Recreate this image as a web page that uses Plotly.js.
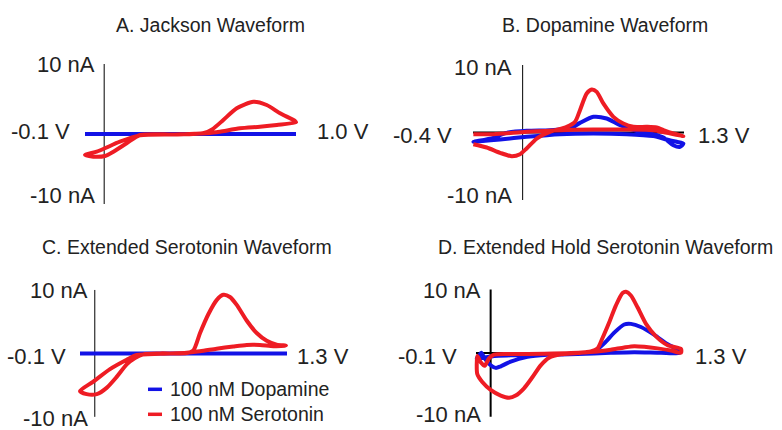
<!DOCTYPE html>
<html>
<head>
<meta charset="utf-8">
<script src="https://cdn.plot.ly/plotly-3.0.1.min.js"></script>
<style>html,body{margin:0;padding:0;background:#fff;}#chart{width:782px;height:430px;}</style>
</head>
<body>
<div id="chart"></div>
<script>
// ---------- DATA (potential in V, current in nA) ----------
const panelTitles = ["A. Jackson Waveform", "B. Dopamine Waveform", "C. Extended Serotonin Waveform", "D. Extended Hold Serotonin Waveform"];
const seriesNames = ["100 nM Dopamine", "100 nM Serotonin"];
const voltLimits = [[-0.1, 1.0], [-0.4, 1.3], [-0.1, 1.3], [-0.1, 1.3]];
const voltLabels = [["-0.1 V", "1.0 V"], ["-0.4 V", "1.3 V"], ["-0.1 V", "1.3 V"], ["-0.1 V", "1.3 V"]];
const currentLabels = ["10 nA", "-10 nA"];
const currentLimits = [-10, 10];

// Panel A
const voltA_dopamine = [-0.1, 0.2, 0.5, 0.8, 1.0];
const curA_dopamine  = [0, 0, 0, 0, 0];
const voltA_serotonin = [-0.1,-0.057,0.004,0.048,0.117,0.187,0.369,0.52,0.565,0.621,0.691,0.778,0.847,0.917,0.995,1.0,0.9,0.812,0.708,0.604,0.552,0.369,0.187,0.082,0.004,-0.039,-0.1];
const curA_serotonin  = [-3.0,-3.24,-3.14,-2.53,-1.33,-0.14,-0.07,0.15,0.7,2.0,3.67,4.6,4.14,2.96,1.86,1.67,1.29,1.04,0.81,0.33,0.14,-0.07,-0.2,-1.1,-2.04,-2.53,-3.0];

// Panel B
const voltB_dopamine = [-0.397,-0.236,-0.129,0.032,0.220,0.382,0.462,0.570,0.677,0.785,0.919,1.053,1.134,1.214,1.268,1.295,1.241,1.161,1.053,0.838,0.570,0.301,0.032,-0.182,-0.344,-0.397];
const curB_dopamine  = [-1.38,-0.79,-0.05,0.25,0.35,0.59,1.43,2.32,2.07,1.09,0.25,-0.25,-0.74,-1.88,-2.12,-1.63,-1.38,-1.04,-0.54,-0.25,-0.15,-0.25,-0.64,-1.04,-1.28,-1.38];
const voltB_serotonin = [-0.397,-0.236,0.032,0.301,0.570,0.838,1.053,1.161,1.295,1.214,1.134,1.080,1.000,0.892,0.811,0.731,0.650,0.597,0.556,0.516,0.462,0.422,0.355,0.220,0.113,0.032,-0.021,-0.088,-0.182,-0.290,-0.397];
const curB_serotonin  = [-0.25,-0.25,0.10,0.35,0.44,0.44,0.35,-0.05,-0.54,-0.15,0.35,0.74,0.84,0.84,1.33,2.32,4.30,6.02,6.37,5.78,3.31,1.58,0.84,0.10,-0.89,-2.37,-3.21,-3.51,-3.01,-2.22,-1.73];

// Panel C
const voltC_dopamine = [-0.1, 0.3, 0.7, 1.0, 1.3];
const curC_dopamine  = [0, 0, 0, 0, 0];
const voltC_serotonin = [-0.1,-0.055,0.013,0.08,0.148,0.216,0.272,0.328,0.441,0.621,0.667,0.712,0.768,0.824,0.869,0.914,0.96,1.027,1.095,1.163,1.230,1.293,1.208,1.117,1.027,0.937,0.824,0.712,0.621,0.441,0.283,0.216,0.103,-0.01,-0.1];
const curC_serotonin  = [-5.93,-6.42,-6.42,-5.43,-3.70,-1.73,-0.74,-0.15,0.0,0.05,0.49,3.21,6.17,8.4,9.23,8.89,7.65,5.19,3.21,1.98,1.38,1.23,1.14,1.33,1.33,1.09,0.74,0.35,0.10,-0.05,-0.25,-0.99,-2.47,-4.44,-5.93];

// Panel D
const voltD_dopamine = [-0.095,-0.079,-0.064,-0.041,-0.004,0.035,0.069,0.137,0.251,0.388,0.593,0.707,0.776,0.844,0.912,0.958,1.026,1.118,1.209,1.289,1.289,1.163,0.981,0.821,0.593,0.365,0.137,0.023,-0.095];
const curD_dopamine  = [-0.84,-0.35,0.05,-0.84,-1.83,-2.32,-2.07,-1.33,-0.59,-0.25,-0.05,0.25,1.53,3.21,4.49,4.59,4.10,2.86,1.38,0.40,0.05,0.05,0.15,0.05,-0.15,-0.25,-0.35,-0.44,-0.84];
const voltD_serotonin = [-0.091,-0.095,-0.091,-0.057,0.0,0.069,0.126,0.171,0.228,0.285,0.342,0.399,0.479,0.593,0.684,0.730,0.764,0.810,0.855,0.901,0.924,0.958,1.004,1.061,1.129,1.209,1.3,1.3,1.232,1.140,1.049,0.981,0.912,0.821,0.707,0.548,0.365,0.137,0.023,-0.011,-0.041,-0.068,-0.091];
const curD_serotonin  = [-0.44,-1.83,-3.31,-4.54,-5.78,-6.67,-7.01,-6.67,-5.53,-3.80,-1.93,-0.74,-0.20,0,0.25,0.74,2.37,4.84,7.46,9.43,9.63,9.04,7.16,4.59,2.62,1.23,0.64,0.05,0.40,0.74,0.99,1.09,0.89,0.54,0.20,0,-0.10,-0.15,-0.25,-0.84,-1.98,-1.43,-0.44];

const dopamineVolts = [voltA_dopamine, voltB_dopamine, voltC_dopamine, voltD_dopamine];
const dopamineCurs  = [curA_dopamine, curB_dopamine, curC_dopamine, curD_dopamine];
const serotoninVolts = [voltA_serotonin, voltB_serotonin, voltC_serotonin, voltD_serotonin];
const serotoninCurs  = [curA_serotonin, curB_serotonin, curC_serotonin, curD_serotonin];

// ---------- LAYOUT (pixel geometry) ----------
const W = 782, H = 430;
const BLUE = '#1212e6', RED = '#ee1c24', TXT = '#222222';
const FONT = 'Liberation Sans, Arial, Helvetica, sans-serif';
const geom = [
  {x0: 85,  x1: 296, yTop: 64,    yBot: 204,   vw: 1},
  {x0: 473, x1: 684, yTop: 65,    yBot: 200,   vw: 1},
  {x0: 80,  x1: 287, yTop: 290.8, yBot: 425.8, vw: 1},
  {x0: 476, x1: 681, yTop: 290.2, yBot: 425.2, vw: 2}
];
const titlePos = [[211, 25], [605, 25], [187, 247], [605, 247]];
const labelPos = [
  [[97, 64.5], [97, 196], [72, 131], [315, 131]],
  [[514, 68], [514, 195], [454, 135], [696, 135]],
  [[90, 290], [90, 418], [68, 356.5], [295, 356.5]],
  [[483, 290], [483, 414.5], [459, 356.5], [693, 356.5]]
];
const px2x = p => p / W;
const px2y = p => (H - p) / H;
const PAD = 14;

const layout = {
  width: W, height: H, autosize: false,
  margin: {l: 0, r: 0, t: 0, b: 0},
  paper_bgcolor: '#fff', plot_bgcolor: 'rgba(0,0,0,0)',
  showlegend: false,
  shapes: [], annotations: []
};
const traces = [];

for (let i = 0; i < 4; i++) {
  const g = geom[i];
  const [v0, v1] = voltLimits[i];
  const vPerPx = (v1 - v0) / (g.x1 - g.x0);
  const nAPerPx = (currentLimits[1] - currentLimits[0]) / (g.yBot - g.yTop);
  const sfx = i === 0 ? '' : String(i + 1);
  layout['xaxis' + sfx] = {
    domain: [px2x(g.x0 - PAD), px2x(g.x1 + PAD)],
    range: [v0 - PAD * vPerPx, v1 + PAD * vPerPx],
    visible: false, fixedrange: true, anchor: 'y' + sfx
  };
  layout['yaxis' + sfx] = {
    domain: [px2y(g.yBot + PAD), px2y(g.yTop - PAD)],
    range: [currentLimits[0] - PAD * nAPerPx, currentLimits[1] + PAD * nAPerPx],
    visible: false, fixedrange: true, anchor: 'x' + sfx
  };
  const xr = 'x' + sfx, yr = 'y' + sfx;
  layout.shapes.push({type: 'line', xref: xr, yref: yr, x0: v0, x1: v1, y0: 0, y1: 0,
    line: {color: '#000', width: 2}, layer: 'below'});
  layout.shapes.push({type: 'line', xref: xr, yref: yr, x0: 0, x1: 0, y0: currentLimits[0], y1: currentLimits[1],
    line: {color: '#000', width: g.vw}, layer: 'below'});

  traces.push({x: dopamineVolts[i], y: dopamineCurs[i], xaxis: xr, yaxis: yr, type: 'scatter', mode: 'lines',
    name: seriesNames[0], line: {color: BLUE, width: 4, shape: 'spline', smoothing: 0.7}, hoverinfo: 'skip'});
  traces.push({x: serotoninVolts[i], y: serotoninCurs[i], xaxis: xr, yaxis: yr, type: 'scatter', mode: 'lines',
    name: seriesNames[1], line: {color: RED, width: 4, shape: 'spline', smoothing: 0.7}, hoverinfo: 'skip'});

  layout.annotations.push({text: panelTitles[i], xref: 'paper', yref: 'paper',
    x: px2x(titlePos[i][0]), y: px2y(titlePos[i][1]), xanchor: 'center', yanchor: 'middle',
    showarrow: false, font: {family: FONT, size: 19.5, color: TXT}});
  const lp = labelPos[i];
  const texts = [currentLabels[0], currentLabels[1], voltLabels[i][0], voltLabels[i][1]];
  const anchors = ['right', 'right', 'right', 'left'];
  for (let k = 0; k < 4; k++) {
    layout.annotations.push({text: texts[k], xref: 'paper', yref: 'paper',
      x: px2x(lp[k][0]), y: px2y(lp[k][1]), xanchor: anchors[k], yanchor: 'middle',
      showarrow: false, font: {family: FONT, size: 22, color: TXT}});
  }
}

const legRows = [[BLUE, 389.3], [RED, 414.3]];
legRows.forEach((r, k) => {
  layout.shapes.push({type: 'line', xref: 'paper', yref: 'paper',
    x0: px2x(148), x1: px2x(162), y0: px2y(r[1]), y1: px2y(r[1]),
    line: {color: r[0], width: 3.5}});
  layout.annotations.push({text: seriesNames[k], xref: 'paper', yref: 'paper',
    x: px2x(168), y: px2y(r[1]), xanchor: 'left', yanchor: 'middle',
    showarrow: false, font: {family: FONT, size: 19.5, color: TXT}});
});

Plotly.newPlot('chart', traces, layout, {staticPlot: true, displayModeBar: false});
</script>
</body>
</html>
